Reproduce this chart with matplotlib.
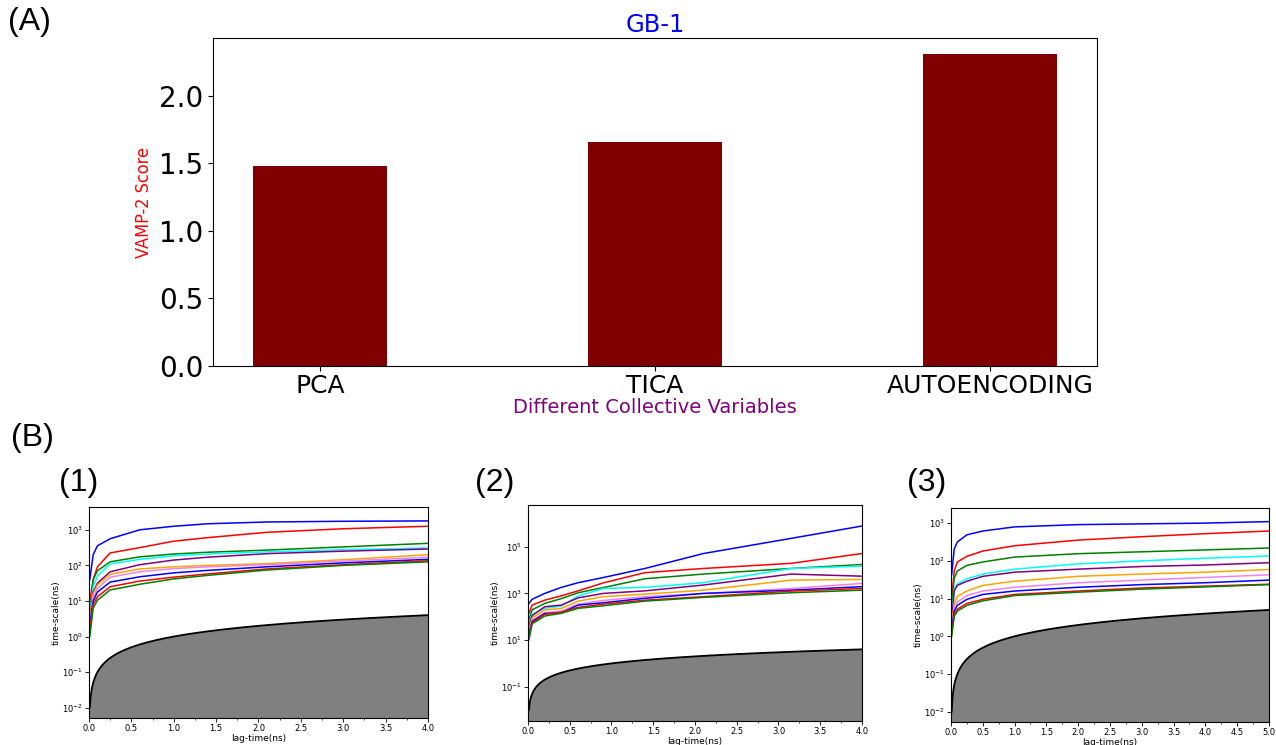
import numpy as np
import matplotlib
matplotlib.use("Agg")
import matplotlib.pyplot as plt
from matplotlib.ticker import AutoMinorLocator, NullLocator
from matplotlib import font_manager

# (A) VAMP-2 scores
cv_names = ['PCA', 'TICA', 'AUTOENCODING']
vamp2_scores = [1.48, 1.66, 2.31]

# (B) implied timescales, read as log10(ns) off the log axes
process_colors = ['blue', 'red', 'green', 'cyan', 'purple', 'orange', 'violet',
                  'blue', 'red', 'green']

lags_1 = [0.01, 0.05, 0.1, 0.25, 0.6, 1.0, 1.4, 2.1, 3.0, 4.0]
log_ts_1 = [
    [1.6, 2.3, 2.55, 2.75, 3.0, 3.1, 3.17, 3.22, 3.24, 3.25],
    [1.0, 1.6, 1.96, 2.35, 2.5, 2.68, 2.78, 2.93, 3.03, 3.10],
    [0.7, 1.6, 1.85, 2.1, 2.24, 2.32, 2.37, 2.43, 2.52, 2.62],
    [0.6, 1.4, 1.7, 2.04, 2.17, 2.27, 2.32, 2.38, 2.44, 2.49],
    [0.5, 1.25, 1.5, 1.82, 2.02, 2.15, 2.23, 2.33, 2.4, 2.46],
    [0.45, 1.2, 1.45, 1.75, 1.9, 1.96, 2.0, 2.05, 2.16, 2.30],
    [0.4, 1.1, 1.35, 1.67, 1.82, 1.91, 1.96, 2.02, 2.12, 2.23],
    [0.3, 1.0, 1.25, 1.53, 1.68, 1.79, 1.86, 1.96, 2.07, 2.17],
    [0.2, 0.9, 1.12, 1.40, 1.56, 1.67, 1.76, 1.9, 2.02, 2.13],
    [0.0, 0.8, 1.02, 1.31, 1.47, 1.62, 1.72, 1.87, 2.0, 2.10],
]

lags_2 = [0.01, 0.05, 0.2, 0.4, 0.6, 0.9, 1.4, 2.1, 3.15, 4.0]
log_ts_2 = [
    [2.57, 2.75, 3.0, 3.26, 3.46, 3.68, 4.07, 4.71, 5.36, 5.89],
    [2.14, 2.5, 2.71, 2.9, 3.11, 3.45, 3.89, 4.07, 4.29, 4.71],
    [1.86, 2.3, 2.57, 2.78, 3.03, 3.25, 3.63, 3.83, 4.07, 4.24],
    [1.71, 2.1, 2.36, 2.46, 2.89, 3.21, 3.26, 3.46, 4.07, 4.17],
    [1.57, 2.05, 2.43, 2.5, 2.81, 3.0, 3.11, 3.36, 3.83, 3.74],
    [1.43, 1.95, 2.29, 2.36, 2.67, 2.86, 2.97, 3.14, 3.57, 3.6],
    [1.29, 1.85, 2.17, 2.24, 2.54, 2.7, 2.86, 3.0, 3.21, 3.43],
    [1.21, 1.8, 2.14, 2.17, 2.5, 2.6, 2.79, 3.0, 3.14, 3.29],
    [1.14, 1.75, 2.1, 2.2, 2.4, 2.54, 2.71, 2.86, 3.1, 3.21],
    [1.0, 1.7, 2.03, 2.15, 2.36, 2.47, 2.67, 2.83, 3.03, 3.14],
]

lags_3 = [0.01, 0.05, 0.1, 0.25, 0.5, 1.0, 2.0, 3.0, 4.0, 5.0]
log_ts_3 = [
    [1.63, 2.31, 2.5, 2.69, 2.79, 2.9, 2.96, 2.98, 3.0, 3.04],
    [0.96, 1.73, 1.97, 2.12, 2.26, 2.4, 2.55, 2.64, 2.72, 2.79],
    [0.77, 1.54, 1.73, 1.88, 1.97, 2.1, 2.19, 2.24, 2.29, 2.34],
    [0.48, 1.25, 1.39, 1.52, 1.65, 1.78, 1.92, 2.0, 2.07, 2.13],
    [0.38, 1.2, 1.35, 1.46, 1.59, 1.7, 1.78, 1.85, 1.89, 1.95],
    [0.29, 0.87, 1.06, 1.2, 1.35, 1.46, 1.59, 1.65, 1.7, 1.77],
    [0.19, 0.77, 0.91, 1.08, 1.2, 1.3, 1.42, 1.49, 1.56, 1.63],
    [0.14, 0.67, 0.82, 0.98, 1.11, 1.2, 1.3, 1.37, 1.42, 1.49],
    [0.05, 0.58, 0.72, 0.87, 0.98, 1.11, 1.2, 1.28, 1.33, 1.38],
    [0.0, 0.53, 0.67, 0.82, 0.94, 1.08, 1.17, 1.25, 1.31, 1.37],
]

# narrow font for the y label, if one is around
names = {f.name for f in font_manager.fontManager.ttflist}
print("condensed DejaVu:", [f.fname for f in font_manager.fontManager.ttflist if 'Condensed' in f.fname][:3])
narrow_stretch = 'condensed'

fig = plt.figure(figsize=(12.76, 7.45), dpi=100)

# ---- (A) bar chart ----
ax = fig.add_axes([0.1669, 0.5087, 0.6928, 0.4403])
pos = np.arange(len(cv_names))
ax.bar(pos, vamp2_scores, width=0.4, color='#800000')
ax.set_xticks(pos)
ax.set_xticklabels(cv_names, family='DejaVu Sans', fontsize=18)
ax.set_yticks([0.0, 0.5, 1.0, 1.5, 2.0])
ax.set_yticklabels(['0.0', '0.5', '1.0', '1.5', '2.0'], family='DejaVu Sans', fontsize=20)
ax.tick_params(axis='x', pad=2)
ax.set_title('GB-1', color='blue', fontsize=17.5, pad=4)
ax.set_ylabel('VAMP-2 Score', color='red', fontsize=13, family='DejaVu Sans',
              fontstretch=narrow_stretch, labelpad=4)
ax.set_xlabel('Different Collective Variables', color='purple', fontsize=14,
              labelpad=0)

# ---- (B) implied timescale panels ----
panels = [
    ([0.0697, 0.0362, 0.2657, 0.2832], lags_1, log_ts_1, (10 ** -2.29, 10 ** 3.64), 4.0,
     [1e-2, 1e-1, 1e0, 1e1, 1e2, 1e3]),
    ([0.4138, 0.0322, 0.2617, 0.2899], lags_2, log_ts_2, (10 ** -2.47, 10 ** 6.79), 4.0,
     [1e-1, 1e1, 1e3, 1e5]),
    ([0.7453, 0.0309, 0.2492, 0.2872], lags_3, log_ts_3, (10 ** -2.27, 10 ** 3.4), 5.0,
     [1e-2, 1e-1, 1e0, 1e1, 1e2, 1e3]),
]

for rect, lags, log_ts, ylim, xmax, yticks in panels:
    axp = fig.add_axes(rect)
    axp.set_yscale('log')
    for vals, c in zip(log_ts, process_colors):
        axp.plot(lags, 10 ** np.array(vals), color=c, lw=1.1)
    # lag-time reference line (timescale == lag time) with shaded region below
    ref = np.linspace(lags[0], xmax, 400)
    axp.plot(ref, ref, color='black', lw=1.3)
    axp.fill_between(ref, ylim[0], ref, color='grey')
    axp.set_xlim(0, xmax)
    axp.set_ylim(*ylim)
    axp.set_yticks(yticks)
    axp.yaxis.set_minor_locator(NullLocator())
    axp.set_xticks(np.arange(0, xmax + 0.01, 0.5))
    axp.xaxis.set_minor_locator(AutoMinorLocator(2))
    axp.tick_params(labelsize=6, length=3, width=0.6, pad=1.5)
    axp.tick_params(which='minor', length=1.5, width=0.5)
    axp.set_xlabel('lag-time(ns)', fontsize=6.5, labelpad=0.5)
    axp.set_ylabel('time-scale(ns)', fontsize=6.5, labelpad=1)
    for s in axp.spines.values():
        s.set_linewidth(0.8)

# panel labels
lab = dict(family=['Liberation Sans', 'DejaVu Sans'], fontsize=23, va='top', ha='left')
fig.text(0.006, 0.99, '(A)', **lab)
fig.text(0.009, 0.432, '(B)', **lab)
fig.text(0.046, 0.372, '(1)', **lab)
fig.text(0.372, 0.372, '(2)', **lab)
fig.text(0.711, 0.372, '(3)', **lab)

fig.savefig('out.png', dpi=100)
